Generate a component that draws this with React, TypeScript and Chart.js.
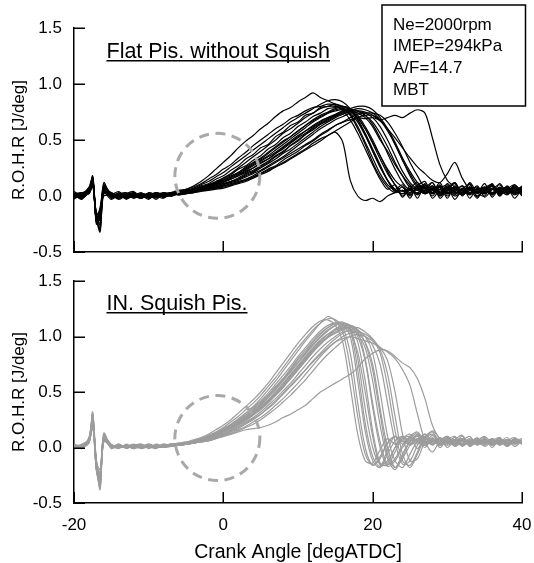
import React, { useEffect, useRef } from "react";
import { Chart, registerables } from "chart.js";

Chart.register(...registerables);

// Crank angle samples shared by every cycle [degATDC]
const ANGLES = [
  -20, -19, -18, -17.5, -17, -16.5, -16,
  -15, -14, -13, -12, -11, -10, -9, -8, -7, -6,
  -5, -4, -3, -2, -1, 0, 1, 2, 3, 4,
  5, 6, 7, 8, 9, 10, 11, 12, 13, 14,
  15, 16, 17, 18, 19, 20, 21, 22, 23, 24,
  25, 26, 27, 28, 29, 30, 31, 32, 33, 34,
  35, 36, 37, 38, 39, 40,
];

const X_TICKS = [-20, 0, 20, 40];
const Y_TICKS = [-0.5, 0, 0.5, 1.0, 1.5];

const Y_LABEL = "R.O.H.R [J/deg]";
const X_LABEL = "Crank Angle [degATDC]";
const TOP_TITLE = "Flat Pis. without Squish";
const BOTTOM_TITLE = "IN. Squish Pis.";
const CONDITIONS = ["Ne=2000rpm", "IMEP=294kPa", "A/F=14.7", "MBT"];

// ---- Flat piston without squish: rate of heat release per cycle [J/deg]
const flat01 = [
  0.01, -0.01, 0.05, 0.16, -0.21, -0.14, 0.06,
  0.02, -0.01, 0.01, -0.02, 0.01, 0.0, -0.01, 0.02, 0.02, 0.04,
  0.06, 0.09, 0.13, 0.18, 0.24, 0.3, 0.36, 0.43, 0.49, 0.54,
  0.6, 0.65, 0.71, 0.76, 0.79, 0.84, 0.88, 0.92, 0.88, 0.85,
  0.82, 0.79, 0.73, 0.62, 0.48, 0.34, 0.2, 0.1, 0.05, 0.02,
  0.06, 0.01, 0.07, 0.03, 0.08, 0.02, 0.05, 0.09, 0.03, 0.06,
  0.02, 0.07, 0.04, 0.08, 0.03, 0.05,
];
const flat02 = [
  -0.02, 0.02, 0.03, 0.12, -0.18, -0.3, 0.08,
  -0.02, 0.02, 0.0, 0.01, -0.02, 0.02, 0.0, 0.01, 0.03, 0.02,
  0.03, 0.04, 0.05, 0.06, 0.07, 0.08, 0.1, 0.12, 0.14, 0.17,
  0.2, 0.23, 0.26, 0.3, 0.34, 0.38, 0.42, 0.47, 0.51, 0.54,
  0.57, 0.48, 0.14, 0.0, -0.04, -0.02, -0.05, 0.0, 0.03, 0.05,
  0.02, 0.07, 0.03, 0.06, 0.0, 0.05, 0.08, 0.02, 0.06, 0.03,
  0.07, 0.02, 0.06, 0.03, 0.08, 0.04,
];
const flat03 = [
  0.02, 0.0, 0.06, 0.14, -0.23, -0.2, 0.03,
  0.0, 0.02, -0.02, 0.01, 0.0, -0.01, 0.02, 0.0, 0.02, 0.03,
  0.03, 0.04, 0.05, 0.06, 0.07, 0.09, 0.11, 0.13, 0.15, 0.18,
  0.22, 0.26, 0.3, 0.34, 0.38, 0.42, 0.46, 0.5, 0.55, 0.59,
  0.63, 0.66, 0.68, 0.7, 0.69, 0.7, 0.68, 0.7, 0.72, 0.7,
  0.74, 0.77, 0.74, 0.52, 0.28, 0.14, 0.08, 0.03, 0.07, 0.02,
  0.06, 0.03, 0.07, 0.02, 0.05, 0.08,
];
const flat04 = [
  0.0, 0.03, 0.02, 0.1, -0.16, -0.12, 0.1,
  0.01, -0.02, 0.02, 0.0, -0.01, 0.02, 0.01, -0.01, 0.02, 0.02,
  0.03, 0.05, 0.06, 0.08, 0.09, 0.11, 0.13, 0.15, 0.18, 0.21,
  0.25, 0.29, 0.33, 0.38, 0.42, 0.47, 0.52, 0.57, 0.62, 0.66,
  0.7, 0.73, 0.75, 0.76, 0.75, 0.72, 0.67, 0.6, 0.52, 0.43,
  0.34, 0.26, 0.2, 0.14, 0.12, 0.2, 0.3, 0.16, 0.06, 0.04,
  0.08, 0.02, 0.06, 0.04, 0.07, 0.03,
];
const flat05 = [
  0.03, -0.02, 0.04, 0.15, -0.2, -0.16, 0.05,
  0.01, 0.0, -0.02, 0.02, 0.01, -0.01, 0.0, 0.02, 0.01, 0.03,
  0.04, 0.06, 0.08, 0.1, 0.13, 0.16, 0.2, 0.25, 0.3, 0.35,
  0.4, 0.45, 0.5, 0.56, 0.6, 0.65, 0.7, 0.74, 0.78, 0.8,
  0.8, 0.78, 0.72, 0.6, 0.46, 0.3, 0.17, 0.08, 0.03, 0.05,
  0.01, 0.06, 0.02, 0.07, 0.03, 0.08, 0.02, 0.05, 0.01, 0.07,
  0.04, 0.09, 0.03, 0.06, 0.01, 0.05,
];
const flat06 = [
  -0.01, 0.01, 0.07, 0.13, -0.22, -0.18, 0.04,
  0.02, 0.01, 0.0, -0.01, 0.02, 0.01, 0.0, 0.01, 0.03, 0.02,
  0.04, 0.05, 0.07, 0.09, 0.11, 0.14, 0.17, 0.21, 0.25, 0.29,
  0.33, 0.38, 0.43, 0.48, 0.53, 0.58, 0.63, 0.68, 0.72, 0.75,
  0.78, 0.8, 0.78, 0.72, 0.62, 0.5, 0.36, 0.22, 0.1, 0.04,
  0.07, 0.02, 0.05, 0.09, 0.03, 0.06, 0.0, 0.04, 0.08, 0.03,
  0.05, 0.01, 0.07, 0.03, 0.09, 0.04,
];
const flat07 = [
  0.02, -0.02, 0.05, 0.17, -0.19, -0.22, 0.07,
  -0.01, 0.02, 0.01, 0.0, -0.02, 0.01, 0.02, 0.0, 0.02, 0.04,
  0.03, 0.05, 0.06, 0.08, 0.1, 0.12, 0.15, 0.18, 0.21, 0.25,
  0.29, 0.33, 0.38, 0.43, 0.48, 0.53, 0.58, 0.63, 0.67, 0.7,
  0.73, 0.76, 0.77, 0.76, 0.72, 0.64, 0.52, 0.38, 0.24, 0.12,
  0.05, 0.03, 0.08, 0.02, 0.06, 0.03, 0.07, 0.01, 0.05, 0.08,
  0.03, 0.06, 0.02, 0.07, 0.04, 0.06,
];
const flat08 = [
  0.0, 0.01, 0.03, 0.11, -0.17, -0.26, 0.09,
  0.0, -0.01, 0.02, 0.01, -0.01, 0.0, 0.02, 0.01, 0.0, 0.02,
  0.03, 0.04, 0.05, 0.06, 0.08, 0.1, 0.12, 0.14, 0.17, 0.2,
  0.23, 0.27, 0.31, 0.35, 0.4, 0.45, 0.5, 0.55, 0.6, 0.64,
  0.68, 0.71, 0.74, 0.75, 0.74, 0.7, 0.62, 0.5, 0.36, 0.22,
  0.12, 0.06, 0.02, 0.07, 0.04, 0.09, 0.03, 0.06, 0.02, 0.05,
  0.08, 0.03, 0.05, 0.01, 0.06, 0.04,
];
const flat09 = [
  0.01, 0.0, 0.06, 0.15, -0.24, -0.15, 0.05,
  0.02, 0.0, 0.01, -0.01, 0.02, 0.0, -0.01, 0.02, 0.02, 0.04,
  0.05, 0.07, 0.1, 0.13, 0.17, 0.21, 0.26, 0.31, 0.36, 0.41,
  0.46, 0.51, 0.56, 0.61, 0.66, 0.7, 0.74, 0.78, 0.82, 0.85,
  0.86, 0.84, 0.78, 0.68, 0.55, 0.4, 0.26, 0.14, 0.06, 0.02,
  0.05, 0.08, 0.02, 0.06, 0.03, 0.07, 0.04, 0.01, 0.06, 0.03,
  0.07, 0.02, 0.05, 0.08, 0.03, 0.06,
];
const flat10 = [
  -0.01, 0.02, 0.04, 0.13, -0.2, -0.1, 0.06,
  0.01, 0.02, -0.01, 0.0, 0.01, -0.02, 0.01, 0.0, 0.01, 0.02,
  0.02, 0.03, 0.04, 0.05, 0.06, 0.07, 0.09, 0.11, 0.13, 0.16,
  0.19, 0.22, 0.26, 0.29, 0.33, 0.37, 0.41, 0.45, 0.49, 0.54,
  0.58, 0.62, 0.66, 0.7, 0.72, 0.72, 0.68, 0.6, 0.48, 0.34,
  0.22, 0.12, 0.06, 0.03, 0.08, 0.02, 0.06, 0.03, 0.07, 0.04,
  0.02, 0.06, 0.03, 0.07, 0.02, 0.05,
];
const flat11 = [
  0.02, 0.01, 0.05, 0.14, -0.21, -0.24, 0.04,
  -0.01, 0.01, 0.02, -0.01, 0.0, 0.02, 0.01, 0.0, 0.03, 0.03,
  0.04, 0.06, 0.07, 0.09, 0.12, 0.14, 0.17, 0.2, 0.24, 0.28,
  0.32, 0.36, 0.41, 0.46, 0.51, 0.56, 0.61, 0.66, 0.7, 0.74,
  0.77, 0.78, 0.76, 0.7, 0.6, 0.48, 0.36, 0.24, 0.14, 0.08,
  0.03, 0.07, 0.02, 0.05, 0.09, 0.03, 0.06, 0.02, 0.07, 0.04,
  0.06, 0.02, 0.08, 0.03, 0.05, 0.07,
];
const flat12 = [
  0.0, -0.01, 0.04, 0.12, -0.18, -0.2, 0.08,
  0.01, 0.0, 0.01, 0.02, -0.01, 0.01, 0.0, 0.02, 0.01, 0.03,
  0.03, 0.05, 0.07, 0.09, 0.11, 0.13, 0.16, 0.19, 0.23, 0.27,
  0.31, 0.35, 0.39, 0.44, 0.49, 0.54, 0.58, 0.62, 0.66, 0.7,
  0.72, 0.74, 0.76, 0.74, 0.7, 0.62, 0.5, 0.4, 0.28, 0.18,
  0.1, 0.05, 0.08, 0.03, 0.06, 0.02, 0.07, 0.05, 0.02, 0.06,
  0.03, 0.07, 0.04, 0.06, 0.02, 0.05,
];
const flat13 = [
  0.03, -0.03, 0.06, 0.16, -0.22, -0.28, 0.02,
  0.03, -0.02, 0.02, 0.04, -0.01, 0.01, -0.03, 0.02, 0.0, 0.04,
  0.05, 0.06, 0.09, 0.11, 0.15, 0.18, 0.23, 0.27, 0.33, 0.37,
  0.43, 0.46, 0.53, 0.57, 0.63, 0.66, 0.72, 0.74, 0.79, 0.8,
  0.82, 0.8, 0.77, 0.7, 0.6, 0.47, 0.33, 0.2, 0.1, 0.0,
  0.09, -0.02, 0.1, 0.03, 0.12, 0.0, 0.08, 0.02, 0.11, -0.01,
  0.07, 0.1, 0.0, 0.09, 0.02, 0.06,
];
const flat14 = [
  -0.03, 0.03, 0.02, 0.09, -0.15, -0.18, 0.12,
  -0.02, 0.03, -0.03, 0.02, 0.01, -0.03, 0.03, -0.01, 0.02, 0.01,
  0.02, 0.04, 0.05, 0.07, 0.08, 0.1, 0.13, 0.15, 0.19, 0.22,
  0.26, 0.3, 0.35, 0.39, 0.45, 0.49, 0.55, 0.59, 0.64, 0.67,
  0.71, 0.73, 0.76, 0.78, 0.77, 0.74, 0.68, 0.58, 0.46, 0.32,
  0.2, 0.1, 0.13, 0.02, 0.1, -0.02, 0.09, 0.01, 0.12, 0.03,
  0.0, 0.1, 0.02, 0.08, -0.02, 0.07,
];
const flat15 = [
  0.04, 0.01, 0.08, 0.17, -0.25, -0.13, 0.0,
  0.01, 0.04, -0.02, 0.0, 0.03, -0.02, 0.01, 0.03, 0.0, 0.03,
  0.04, 0.06, 0.07, 0.1, 0.12, 0.16, 0.19, 0.24, 0.27, 0.32,
  0.36, 0.42, 0.46, 0.52, 0.56, 0.62, 0.66, 0.71, 0.74, 0.78,
  0.79, 0.8, 0.76, 0.68, 0.56, 0.42, 0.28, 0.14, 0.06, 0.1,
  0.0, 0.09, 0.04, 0.12, -0.02, 0.06, 0.11, 0.0, 0.08, 0.03,
  0.11, -0.01, 0.07, 0.03, 0.1, 0.02,
];
const flat16 = [
  -0.02, 0.0, 0.05, 0.14, -0.19, -0.21, 0.05,
  0.02, -0.03, 0.01, 0.03, -0.02, 0.02, 0.0, -0.02, 0.03, 0.01,
  0.02, 0.03, 0.05, 0.06, 0.07, 0.09, 0.1, 0.12, 0.15, 0.17,
  0.2, 0.24, 0.27, 0.32, 0.36, 0.4, 0.45, 0.49, 0.54, 0.58,
  0.63, 0.66, 0.7, 0.73, 0.74, 0.74, 0.72, 0.66, 0.56, 0.44,
  0.3, 0.18, 0.08, 0.12, 0.02, 0.08, -0.03, 0.06, 0.1, 0.0,
  0.05, 0.09, 0.01, 0.06, 0.1, 0.02,
];
const flat17 = [
  0.01, 0.02, 0.07, 0.13, -0.2, -0.32, 0.07,
  0.0, 0.02, 0.03, -0.02, 0.02, 0.01, 0.03, 0.0, 0.03, 0.05,
  0.06, 0.08, 0.11, 0.15, 0.19, 0.24, 0.28, 0.34, 0.39, 0.45,
  0.5, 0.55, 0.6, 0.64, 0.69, 0.72, 0.76, 0.79, 0.8, 0.82,
  0.81, 0.76, 0.68, 0.56, 0.42, 0.28, 0.15, 0.06, 0.1, -0.01,
  0.07, 0.02, 0.11, -0.02, 0.06, 0.1, 0.01, 0.07, 0.03, 0.09,
  -0.01, 0.06, 0.1, 0.02, 0.07, 0.04,
];
const flat18 = [
  0.0, -0.02, 0.04, 0.15, -0.23, -0.17, 0.03,
  -0.03, 0.01, 0.02, 0.0, -0.02, 0.03, 0.01, -0.01, 0.01, 0.02,
  0.03, 0.05, 0.06, 0.08, 0.1, 0.13, 0.15, 0.18, 0.22, 0.25,
  0.3, 0.33, 0.38, 0.42, 0.47, 0.52, 0.56, 0.61, 0.65, 0.69,
  0.72, 0.75, 0.78, 0.8, 0.8, 0.77, 0.7, 0.6, 0.46, 0.32,
  0.18, 0.08, 0.1, 0.0, 0.09, 0.04, 0.12, 0.02, 0.06, -0.02,
  0.08, 0.01, 0.11, 0.03, 0.07, 0.0,
];
const flat19 = [
  0.02, 0.03, 0.05, 0.18, -0.17, -0.19, 0.06,
  0.03, 0.0, -0.01, 0.03, 0.0, 0.02, -0.02, 0.03, 0.02, 0.02,
  0.05, 0.06, 0.08, 0.1, 0.12, 0.15, 0.18, 0.21, 0.26, 0.3,
  0.34, 0.39, 0.44, 0.49, 0.53, 0.58, 0.63, 0.67, 0.71, 0.74,
  0.76, 0.77, 0.74, 0.66, 0.54, 0.4, 0.26, 0.14, 0.04, 0.08,
  -0.02, 0.1, 0.03, 0.08, 0.0, 0.11, 0.04, 0.09, -0.02, 0.07,
  0.03, 0.11, 0.0, 0.08, 0.04, 0.09,
];
const flat20 = [
  0.01, -0.01, 0.03, 0.12, -0.21, -0.16, 0.09,
  0.02, 0.01, -0.01, 0.0, 0.02, -0.01, 0.03, 0.01, 0.0, 0.02,
  0.03, 0.04, 0.05, 0.07, 0.09, 0.11, 0.13, 0.16, 0.2, 0.23,
  0.27, 0.31, 0.36, 0.4, 0.45, 0.5, 0.55, 0.6, 0.64, 0.68,
  0.72, 0.75, 0.77, 0.76, 0.72, 0.66, 0.56, 0.44, 0.3, 0.18,
  0.08, 0.12, 0.03, 0.09, 0.01, 0.07, 0.12, 0.02, 0.08, 0.0,
  0.06, 0.1, 0.02, 0.05, 0.08, 0.01,
];

// ---- Intake squish piston: rate of heat release per cycle [J/deg]
const squish01 = [
  0.02, 0.0, 0.08, 0.28, -0.16, -0.25, 0.1,
  0.02, 0.0, 0.01, -0.01, 0.02, 0.0, 0.01, 0.02, 0.02, 0.03,
  0.04, 0.05, 0.07, 0.09, 0.12, 0.16, 0.2, 0.25, 0.31, 0.37,
  0.44, 0.52, 0.6, 0.69, 0.78, 0.87, 0.96, 1.04, 1.12, 1.18,
  1.14, 1.04, 0.72, 0.28, -0.06, -0.16, -0.08, 0.04, 0.1, 0.05,
  0.08, 0.03, 0.09, 0.04, 0.07, 0.02, 0.06, 0.08, 0.03, 0.06,
  0.04, 0.07, 0.03, 0.06, 0.05, 0.04,
];
const squish02 = [
  0.0, 0.02, 0.05, 0.22, -0.2, -0.36, 0.06,
  0.01, 0.02, 0.0, 0.01, -0.01, 0.01, 0.02, 0.01, 0.02, 0.02,
  0.03, 0.05, 0.06, 0.08, 0.11, 0.14, 0.18, 0.22, 0.27, 0.32,
  0.38, 0.45, 0.52, 0.6, 0.68, 0.76, 0.84, 0.92, 0.99, 1.05,
  1.1, 1.12, 1.08, 0.8, 0.35, 0.0, -0.15, -0.12, 0.0, 0.08,
  0.12, 0.05, 0.02, 0.07, 0.04, 0.08, 0.03, 0.06, 0.02, 0.05,
  0.07, 0.03, 0.06, 0.04, 0.07, 0.05,
];
const squish03 = [
  0.01, 0.01, 0.07, 0.3, -0.12, -0.3, 0.12,
  0.0, 0.02, 0.01, 0.0, 0.02, 0.01, 0.0, 0.02, 0.01, 0.03,
  0.03, 0.04, 0.06, 0.08, 0.1, 0.13, 0.16, 0.2, 0.24, 0.29,
  0.34, 0.4, 0.47, 0.54, 0.62, 0.7, 0.78, 0.86, 0.93, 1.0,
  1.06, 1.1, 1.1, 1.05, 0.8, 0.4, 0.05, -0.15, -0.1, 0.02,
  0.1, 0.14, 0.06, 0.03, 0.08, 0.04, 0.07, 0.02, 0.05, 0.08,
  0.03, 0.06, 0.04, 0.07, 0.03, 0.06,
];
const squish04 = [
  0.02, 0.0, 0.04, 0.2, -0.18, -0.22, 0.09,
  0.01, 0.0, 0.02, 0.01, 0.0, 0.02, 0.01, 0.0, 0.02, 0.02,
  0.03, 0.04, 0.05, 0.07, 0.09, 0.11, 0.14, 0.17, 0.21, 0.25,
  0.3, 0.35, 0.41, 0.48, 0.55, 0.62, 0.7, 0.78, 0.85, 0.92,
  0.98, 1.03, 1.06, 1.05, 1.0, 0.85, 0.5, 0.1, -0.12, -0.18,
  -0.06, 0.06, 0.12, 0.05, 0.09, 0.03, 0.07, 0.04, 0.08, 0.03,
  0.06, 0.04, 0.08, 0.03, 0.06, 0.05,
];
const squish05 = [
  0.0, 0.01, 0.09, 0.26, -0.14, -0.38, 0.08,
  0.02, 0.01, 0.0, 0.02, 0.01, 0.0, 0.02, 0.01, 0.03, 0.03,
  0.04, 0.06, 0.08, 0.1, 0.13, 0.17, 0.21, 0.26, 0.31, 0.36,
  0.42, 0.49, 0.57, 0.65, 0.73, 0.82, 0.9, 0.98, 1.05, 1.1,
  1.12, 1.1, 1.0, 0.6, 0.15, -0.12, -0.18, -0.06, 0.06, 0.1,
  0.04, 0.08, 0.02, 0.06, 0.03, 0.07, 0.05, 0.02, 0.06, 0.04,
  0.08, 0.03, 0.05, 0.07, 0.04, 0.06,
];
const squish06 = [
  0.01, 0.02, 0.06, 0.24, -0.17, -0.26, 0.07,
  0.01, 0.0, 0.01, 0.02, 0.0, 0.01, 0.02, 0.0, 0.01, 0.02,
  0.03, 0.04, 0.05, 0.06, 0.08, 0.1, 0.12, 0.14, 0.16, 0.17,
  0.18, 0.2, 0.23, 0.27, 0.3, 0.34, 0.38, 0.44, 0.5, 0.54,
  0.58, 0.62, 0.66, 0.72, 0.8, 0.85, 0.88, 0.87, 0.82, 0.76,
  0.72, 0.62, 0.44, 0.2, 0.08, 0.05, 0.09, 0.03, 0.07, 0.04,
  0.06, 0.03, 0.07, 0.05, 0.04, 0.06,
];
const squish07 = [
  0.02, 0.01, 0.05, 0.21, -0.13, -0.2, 0.11,
  0.0, 0.01, 0.02, 0.0, 0.01, 0.02, 0.0, 0.01, 0.02, 0.02,
  0.03, 0.04, 0.06, 0.08, 0.1, 0.12, 0.15, 0.18, 0.22, 0.26,
  0.3, 0.36, 0.42, 0.49, 0.56, 0.63, 0.7, 0.77, 0.84, 0.9,
  0.95, 0.98, 1.0, 0.98, 0.96, 0.94, 0.9, 0.86, 0.8, 0.7,
  0.56, 0.3, 0.06, -0.04, 0.06, 0.1, 0.05, 0.08, 0.03, 0.06,
  0.04, 0.07, 0.03, 0.05, 0.06, 0.04,
];
const squish08 = [
  0.0, 0.02, 0.07, 0.27, -0.19, -0.32, 0.05,
  0.02, 0.01, 0.0, 0.01, 0.02, 0.0, 0.01, 0.02, 0.02, 0.03,
  0.04, 0.05, 0.07, 0.09, 0.12, 0.15, 0.19, 0.23, 0.28, 0.33,
  0.39, 0.46, 0.53, 0.61, 0.69, 0.77, 0.85, 0.93, 1.0, 1.06,
  1.1, 1.12, 1.1, 1.02, 0.9, 0.6, 0.2, -0.1, -0.2, -0.08,
  0.05, 0.1, 0.04, 0.07, 0.02, 0.06, 0.04, 0.08, 0.03, 0.05,
  0.07, 0.02, 0.06, 0.04, 0.08, 0.05,
];
const squish09 = [
  0.01, 0.0, 0.05, 0.23, -0.15, -0.24, 0.1,
  0.0, 0.02, 0.01, 0.0, 0.01, 0.02, 0.01, 0.01, 0.02, 0.03,
  0.03, 0.05, 0.07, 0.09, 0.11, 0.14, 0.17, 0.21, 0.25, 0.3,
  0.35, 0.41, 0.48, 0.56, 0.64, 0.72, 0.8, 0.88, 0.95, 1.0,
  1.04, 1.07, 1.08, 1.06, 1.0, 0.92, 0.75, 0.4, 0.05, -0.15,
  -0.12, 0.02, 0.12, 0.06, 0.09, 0.04, 0.07, 0.03, 0.06, 0.05,
  0.03, 0.07, 0.05, 0.04, 0.07, 0.05,
];
const squish10 = [
  0.02, 0.01, 0.06, 0.31, -0.2, -0.28, 0.09,
  0.01, 0.0, 0.02, 0.01, 0.0, 0.01, 0.02, 0.01, 0.03, 0.03,
  0.04, 0.06, 0.08, 0.11, 0.14, 0.18, 0.23, 0.28, 0.34, 0.4,
  0.47, 0.55, 0.63, 0.72, 0.81, 0.9, 0.98, 1.06, 1.12, 1.16,
  1.15, 1.08, 0.85, 0.4, 0.0, -0.16, -0.1, 0.04, 0.1, 0.06,
  0.03, 0.08, 0.04, 0.06, 0.02, 0.07, 0.04, 0.06, 0.03, 0.07,
  0.05, 0.03, 0.06, 0.04, 0.05, 0.07,
];
const squish11 = [
  0.0, 0.01, 0.08, 0.25, -0.17, -0.3, 0.07,
  0.02, 0.0, 0.01, 0.02, 0.0, 0.01, 0.0, 0.02, 0.02, 0.02,
  0.03, 0.04, 0.06, 0.07, 0.09, 0.12, 0.15, 0.19, 0.23, 0.27,
  0.32, 0.38, 0.44, 0.51, 0.58, 0.66, 0.74, 0.82, 0.89, 0.95,
  1.0, 1.04, 1.05, 1.03, 0.95, 0.75, 0.35, 0.0, -0.18, -0.1,
  0.02, 0.11, 0.06, 0.03, 0.08, 0.05, 0.02, 0.06, 0.04, 0.07,
  0.05, 0.08, 0.03, 0.06, 0.04, 0.05,
];
const squish12 = [
  0.01, 0.02, 0.05, 0.24, -0.14, -0.27, 0.08,
  0.01, 0.01, 0.0, 0.02, 0.01, 0.0, 0.01, 0.02, 0.01, 0.02,
  0.04, 0.05, 0.07, 0.09, 0.12, 0.15, 0.18, 0.22, 0.27, 0.32,
  0.37, 0.43, 0.5, 0.58, 0.66, 0.74, 0.82, 0.9, 0.97, 1.02,
  1.06, 1.08, 1.07, 0.95, 0.6, 0.15, -0.14, -0.16, -0.04, 0.08,
  0.1, 0.05, 0.08, 0.03, 0.06, 0.04, 0.07, 0.02, 0.05, 0.06,
  0.04, 0.06, 0.03, 0.07, 0.05, 0.04,
];
const squish13 = [
  0.03, -0.01, 0.06, 0.29, -0.18, -0.34, 0.11,
  0.02, -0.01, 0.03, 0.0, 0.02, 0.01, -0.01, 0.03, 0.01, 0.02,
  0.04, 0.05, 0.08, 0.1, 0.13, 0.16, 0.2, 0.24, 0.29, 0.35,
  0.41, 0.47, 0.55, 0.62, 0.7, 0.79, 0.86, 0.95, 1.02, 1.08,
  1.12, 1.13, 1.06, 0.7, 0.22, -0.08, -0.17, -0.02, 0.1, 0.03,
  0.09, -0.01, 0.1, 0.02, 0.08, 0.0, 0.07, 0.11, 0.01, 0.06,
  0.09, 0.0, 0.07, 0.02, 0.08, 0.03,
];
const squish14 = [
  -0.01, 0.03, 0.07, 0.22, -0.11, -0.27, 0.13,
  0.0, 0.03, -0.01, 0.02, 0.03, -0.01, 0.02, 0.0, 0.03, 0.02,
  0.03, 0.04, 0.05, 0.07, 0.09, 0.11, 0.13, 0.16, 0.19, 0.23,
  0.27, 0.32, 0.38, 0.44, 0.51, 0.58, 0.66, 0.74, 0.82, 0.89,
  0.95, 1.0, 1.03, 1.04, 1.02, 0.97, 0.85, 0.55, 0.15, -0.12,
  -0.16, -0.04, 0.1, 0.14, 0.05, 0.1, 0.02, 0.08, 0.04, 0.09,
  0.01, 0.06, 0.09, 0.02, 0.07, 0.03,
];
const squish15 = [
  0.02, 0.02, 0.04, 0.26, -0.21, -0.29, 0.06,
  0.01, 0.03, 0.0, 0.02, 0.0, 0.03, 0.01, 0.02, 0.03, 0.04,
  0.05, 0.07, 0.09, 0.12, 0.16, 0.2, 0.25, 0.31, 0.37, 0.43,
  0.5, 0.58, 0.67, 0.76, 0.85, 0.94, 1.02, 1.09, 1.14, 1.15,
  1.1, 0.95, 0.55, 0.12, -0.12, -0.14, -0.02, 0.08, 0.03, 0.09,
  0.02, 0.07, 0.0, 0.08, 0.03, 0.09, 0.01, 0.06, 0.1, 0.02,
  0.07, 0.03, 0.09, 0.01, 0.06, 0.08,
];
const squish16 = [
  0.0, 0.0, 0.08, 0.32, -0.16, -0.23, 0.09,
  0.03, 0.0, 0.02, -0.01, 0.01, 0.03, 0.0, 0.02, 0.01, 0.03,
  0.04, 0.05, 0.07, 0.09, 0.11, 0.14, 0.18, 0.21, 0.26, 0.31,
  0.36, 0.42, 0.49, 0.57, 0.65, 0.73, 0.81, 0.89, 0.96, 1.02,
  1.07, 1.1, 1.09, 1.0, 0.78, 0.36, 0.0, -0.17, -0.12, 0.0,
  0.08, 0.13, 0.04, 0.09, 0.0, 0.07, 0.05, 0.1, 0.02, 0.06,
  0.1, 0.04, 0.06, 0.01, 0.08, 0.05,
];
const squish17 = [
  0.02, 0.01, 0.05, 0.19, -0.14, -0.31, 0.1,
  0.01, 0.02, 0.0, 0.01, 0.02, 0.0, 0.03, 0.01, 0.02, 0.02,
  0.03, 0.04, 0.05, 0.06, 0.08, 0.1, 0.12, 0.15, 0.18, 0.21,
  0.25, 0.3, 0.35, 0.41, 0.47, 0.54, 0.61, 0.69, 0.77, 0.84,
  0.9, 0.96, 1.0, 1.02, 1.0, 0.96, 0.9, 0.78, 0.5, 0.12,
  -0.12, -0.1, 0.06, 0.15, 0.08, 0.04, 0.09, 0.02, 0.07, 0.03,
  0.08, 0.02, 0.05, 0.09, 0.03, 0.06,
];
const squish18 = [
  0.01, 0.0, 0.06, 0.27, -0.19, -0.26, 0.08,
  -0.01, 0.02, 0.01, 0.03, 0.0, 0.02, 0.01, 0.03, 0.02, 0.03,
  0.04, 0.06, 0.08, 0.1, 0.13, 0.16, 0.2, 0.24, 0.29, 0.34,
  0.4, 0.47, 0.54, 0.62, 0.71, 0.8, 0.88, 0.96, 1.03, 1.08,
  1.12, 1.11, 1.04, 0.86, 0.5, 0.1, -0.16, -0.14, 0.0, 0.1,
  0.06, 0.12, 0.03, 0.08, 0.02, 0.07, 0.1, 0.01, 0.06, 0.04,
  0.02, 0.08, 0.04, 0.07, 0.01, 0.06,
];
const squish19 = [
  0.03, 0.01, 0.07, 0.24, -0.13, -0.35, 0.07,
  0.02, 0.0, 0.02, 0.01, 0.03, 0.0, 0.02, 0.01, 0.02, 0.04,
  0.04, 0.05, 0.07, 0.09, 0.12, 0.15, 0.18, 0.22, 0.26, 0.31,
  0.36, 0.42, 0.48, 0.55, 0.63, 0.71, 0.79, 0.87, 0.94, 0.99,
  1.03, 1.06, 1.08, 1.08, 1.04, 0.98, 0.88, 0.66, 0.28, -0.06,
  -0.18, -0.06, 0.08, 0.12, 0.05, 0.09, 0.03, 0.07, 0.02, 0.08,
  0.04, 0.07, 0.02, 0.06, 0.09, 0.03,
];
const squish20 = [
  0.0, 0.02, 0.05, 0.2, -0.2, -0.33, 0.1,
  0.02, 0.01, 0.02, 0.0, 0.01, 0.02, 0.0, 0.02, 0.03, 0.03,
  0.04, 0.05, 0.07, 0.08, 0.11, 0.14, 0.17, 0.21, 0.25, 0.3,
  0.35, 0.41, 0.47, 0.54, 0.62, 0.7, 0.78, 0.86, 0.93, 0.99,
  1.04, 1.08, 1.1, 1.06, 0.94, 0.7, 0.3, -0.06, -0.18, -0.06,
  0.06, 0.1, 0.05, 0.11, 0.03, 0.06, 0.02, 0.08, 0.05, 0.03,
  0.07, 0.04, 0.08, 0.02, 0.06, 0.04,
];

const FLAT_CYCLES = [
  flat01, flat02, flat03, flat04, flat05, flat06, flat07, flat08, flat09, flat10,
  flat11, flat12, flat13, flat14, flat15, flat16, flat17, flat18, flat19, flat20,
];
const SQUISH_CYCLES = [
  squish01, squish02, squish03, squish04, squish05, squish06, squish07, squish08, squish09, squish10,
  squish11, squish12, squish13, squish14, squish15, squish16, squish17, squish18, squish19, squish20,
];

const FONT = "'Liberation Sans', Arial, Helvetica, sans-serif";

type PanelOpts = {
  isTop: boolean;
  title: string;
  titleBaseline: number;
  circle: { x: number; y: number; r: number };
  showBox: boolean;
};

function makeOverlay(o: PanelOpts) {
  return {
    id: "overlay",
    afterDraw(chart: any) {
      const ctx = chart.ctx as CanvasRenderingContext2D;
      const xs = chart.scales.x;
      const ys = chart.scales.y;
      const { left, bottom } = chart.chartArea;
      ctx.save();
      // inward tick marks
      ctx.strokeStyle = "#000";
      ctx.lineWidth = 1.5;
      ctx.beginPath();
      for (const v of Y_TICKS) {
        const py = Math.round(ys.getPixelForValue(v)) + 0.25;
        ctx.moveTo(left, py);
        ctx.lineTo(left + 11, py);
      }
      for (const v of X_TICKS) {
        const px = Math.round(xs.getPixelForValue(v)) + 0.25;
        ctx.moveTo(px, bottom);
        ctx.lineTo(px, bottom - 11);
      }
      ctx.stroke();

      // dashed highlight circle
      const cx = xs.getPixelForValue(o.circle.x);
      const cy = ys.getPixelForValue(o.circle.y);
      ctx.beginPath();
      ctx.setLineDash([10, 6.5]);
      ctx.lineWidth = 3;
      ctx.strokeStyle = "#a9a9a9";
      ctx.arc(cx, cy, o.circle.r, 0, Math.PI * 2);
      ctx.stroke();
      ctx.setLineDash([]);

      // underlined panel title
      ctx.fillStyle = "#000";
      ctx.font = `21.5px ${FONT}`;
      ctx.textAlign = "left";
      ctx.textBaseline = "alphabetic";
      ctx.fillText(o.title, 106.5, o.titleBaseline);
      const w = ctx.measureText(o.title).width;
      ctx.fillRect(106.5, o.titleBaseline + 2, w, 1.5);

      // operating condition box
      if (o.showBox) {
        ctx.fillStyle = "#fff";
        ctx.fillRect(382, 5, 143.5, 101);
        ctx.strokeStyle = "#000";
        ctx.lineWidth = 1.5;
        ctx.strokeRect(382, 5, 143.5, 101);
        ctx.fillStyle = "#000";
        ctx.font = `17px ${FONT}`;
        CONDITIONS.forEach((t, i) => {
          ctx.fillText(t, 393, 29.5 + i * 21.8);
        });
      }
      ctx.restore();
    },
  };
}

function buildConfig(cycles: number[][], color: string, o: PanelOpts): any {
  const datasets = cycles.map((vals, i) => ({
    label: `cycle ${i + 1}`,
    data: vals.map((v, j) => ({ x: ANGLES[j], y: v })),
    borderColor: color,
    borderWidth: 1.2,
    pointRadius: 0,
    tension: 0.3,
    fill: false,
  }));
  return {
    type: "line",
    data: { datasets },
    options: {
      animation: false,
      responsive: false,
      events: [],
      layout: { padding: { left: 0, right: 12, top: o.isTop ? 28 : 18, bottom: 0 } },
      plugins: { legend: { display: false }, tooltip: { enabled: false } },
      scales: {
        x: {
          type: "linear",
          position: "bottom",
          min: -20,
          max: 40,
          grid: { display: false, drawTicks: false },
          border: { display: true, color: "#000", width: 1.5 },
          ticks: {
            display: !o.isTop,
            stepSize: 20,
            padding: 12,
            color: "#000",
            maxRotation: 0,
            autoSkip: false,
            font: { family: FONT, size: 17 },
            callback: (v: number) => String(v),
          },
          afterBuildTicks: (s: any) => {
            s.ticks = X_TICKS.map((v) => ({ value: v }));
          },
          title: {
            display: !o.isTop,
            text: X_LABEL,
            color: "#000",
            font: { family: FONT, size: 19.5, lineHeight: 1 },
            padding: { top: 0, bottom: 1 },
          },
          afterFit: (s: any) => {
            s.height = o.isTop ? 11 : 60;
            s.paddingLeft = 0;
            s.paddingRight = 0;
          },
        },
        y: {
          type: "linear",
          min: -0.5,
          max: 1.5,
          grid: { display: false, drawTicks: false },
          border: { display: true, color: "#000", width: 1.5 },
          ticks: {
            padding: 12,
            color: "#000",
            font: { family: FONT, size: 17 },
            callback: (v: number) => Number(v).toFixed(1),
          },
          afterBuildTicks: (s: any) => {
            s.ticks = Y_TICKS.map((v) => ({ value: v }));
          },
          title: {
            display: true,
            text: Y_LABEL,
            color: "#000",
            font: { family: FONT, size: 17 },
            padding: { top: 9, bottom: 0 },
          },
          afterFit: (s: any) => {
            s.width = 74;
            s.paddingTop = 0;
            s.paddingBottom = 0;
          },
        },
      },
    },
    plugins: [makeOverlay(o)],
  };
}

export default function App() {
  const topRef = useRef<HTMLCanvasElement>(null);
  const botRef = useRef<HTMLCanvasElement>(null);

  useEffect(() => {
    const top = new Chart(
      topRef.current as HTMLCanvasElement,
      buildConfig(FLAT_CYCLES, "#000000", {
        isTop: true,
        title: TOP_TITLE,
        titleBaseline: 58,
        circle: { x: -0.8, y: 0.18, r: 42.5 },
        showBox: true,
      })
    );
    const bottom = new Chart(
      botRef.current as HTMLCanvasElement,
      buildConfig(SQUISH_CYCLES, "#9c9c9c", {
        isTop: false,
        title: BOTTOM_TITLE,
        titleBaseline: 47,
        circle: { x: -0.8, y: 0.085, r: 42.5 },
        showBox: false,
      })
    );
    return () => {
      top.destroy();
      bottom.destroy();
    };
  }, []);

  return (
    <div style={{ position: "absolute", left: 0, top: 0, width: 534, height: 563, background: "#fff" }}>
      <canvas ref={topRef} width={534} height={263} style={{ position: "absolute", left: 0, top: 0 }} />
      <canvas ref={botRef} width={534} height={300} style={{ position: "absolute", left: 0, top: 263 }} />
    </div>
  );
}
